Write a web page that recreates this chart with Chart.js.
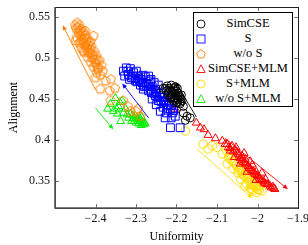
<!DOCTYPE html>
<html>
<head>
<meta charset="utf-8">
<script src="https://cdn.jsdelivr.net/npm/chart.js@4.4.1/dist/chart.umd.min.js"></script>
<style>
html, body { margin: 0; padding: 0; background: #fff; }
#wrap { position: relative; width: 308px; height: 245px; overflow: hidden; }
#legend {
    position: absolute; left: 193px; top: 12px; width: 100px; height: 95px;
    box-sizing: border-box; border: 1px solid #000; background: #fff;
    font-family: "Liberation Serif", serif; font-size: 12.5px; color: #000;
}
.row { position: absolute; left: 0; width: 100%; height: 15px; }
.row svg { position: absolute; left: 1px; top: 1.5px; }
.row span { position: absolute; left: 10px; right: 0; text-align: center; line-height: 15px; white-space: nowrap; }
</style>
</head>
<body>
<div id="wrap">
    <canvas id="chart" width="308" height="245"></canvas>
    <div id="legend"></div>
</div>
<script>
// tick labels
const xTicks = [-2.4, -2.3, -2.2, -2.1, -2, -1.9];
const yTicks = [0.35, 0.4, 0.45, 0.5, 0.55];

// series: [uniformity, alignment]
const simcse = [
    [-2.233, 0.463], [-2.223, 0.466], [-2.213, 0.467], [-2.203, 0.465], [-2.225, 0.460],
    [-2.215, 0.461], [-2.206, 0.460], [-2.196, 0.457], [-2.220, 0.455], [-2.210, 0.456],
    [-2.201, 0.454], [-2.191, 0.452], [-2.215, 0.451], [-2.206, 0.450], [-2.196, 0.449],
    [-2.186, 0.448], [-2.201, 0.445], [-2.191, 0.444], [-2.183, 0.441], [-2.198, 0.463],
    [-2.188, 0.455], [-2.183, 0.433], [-2.174, 0.429], [-2.166, 0.427], [-2.178, 0.424],
    [-2.228, 0.463], [-2.218, 0.463], [-2.208, 0.463], [-2.200, 0.460], [-2.220, 0.458],
    [-2.211, 0.459], [-2.203, 0.457], [-2.193, 0.454], [-2.212, 0.453], [-2.204, 0.452],
    [-2.197, 0.451], [-2.189, 0.450], [-2.208, 0.448], [-2.198, 0.446], [-2.190, 0.446]
];
const sOnly = [
    [-2.331, 0.484], [-2.324, 0.488], [-2.314, 0.487], [-2.319, 0.480], [-2.306, 0.482],
    [-2.299, 0.484], [-2.294, 0.478], [-2.311, 0.476], [-2.287, 0.474], [-2.277, 0.477],
    [-2.274, 0.469], [-2.289, 0.467], [-2.265, 0.472], [-2.260, 0.465], [-2.269, 0.460],
    [-2.252, 0.462], [-2.245, 0.467], [-2.240, 0.457], [-2.252, 0.454], [-2.235, 0.452],
    [-2.245, 0.448], [-2.228, 0.448], [-2.220, 0.443], [-2.233, 0.440], [-2.215, 0.438],
    [-2.210, 0.433], [-2.225, 0.433], [-2.203, 0.429], [-2.215, 0.415], [-2.191, 0.415],
    [-2.269, 0.478], [-2.301, 0.472], [-2.279, 0.465], [-2.260, 0.450], [-2.250, 0.443],
    [-2.240, 0.435], [-2.228, 0.427], [-2.213, 0.427],
    [-2.328, 0.478], [-2.320, 0.484], [-2.316, 0.474], [-2.308, 0.478], [-2.302, 0.475],
    [-2.297, 0.471], [-2.292, 0.473], [-2.285, 0.470], [-2.282, 0.462], [-2.275, 0.466],
    [-2.270, 0.468], [-2.265, 0.462], [-2.262, 0.458], [-2.256, 0.457], [-2.250, 0.459],
    [-2.248, 0.453], [-2.242, 0.452], [-2.238, 0.447], [-2.232, 0.446], [-2.230, 0.452],
    [-2.225, 0.443], [-2.222, 0.438], [-2.218, 0.446], [-2.212, 0.442], [-2.207, 0.436],
    [-2.255, 0.470], [-2.263, 0.474], [-2.283, 0.479]
];
const woS = [
    [-2.445, 0.543], [-2.440, 0.540], [-2.448, 0.536], [-2.435, 0.535], [-2.442, 0.531],
    [-2.430, 0.532], [-2.437, 0.527], [-2.425, 0.528], [-2.446, 0.525], [-2.432, 0.522],
    [-2.420, 0.524], [-2.440, 0.518], [-2.427, 0.517], [-2.415, 0.519], [-2.435, 0.512],
    [-2.422, 0.512], [-2.410, 0.514], [-2.428, 0.507], [-2.415, 0.506], [-2.403, 0.508],
    [-2.420, 0.501], [-2.408, 0.500], [-2.398, 0.503], [-2.412, 0.495], [-2.400, 0.494],
    [-2.390, 0.497], [-2.405, 0.489], [-2.393, 0.488], [-2.385, 0.491], [-2.397, 0.482],
    [-2.388, 0.479], [-2.400, 0.476], [-2.375, 0.472], [-2.362, 0.474], [-2.388, 0.462],
    [-2.365, 0.460], [-2.352, 0.463], [-2.363, 0.448], [-2.332, 0.448], [-2.320, 0.441],
    [-2.314, 0.435], [-2.300, 0.435], [-2.295, 0.438], [-2.289, 0.429], [-2.449, 0.521],
    [-2.430, 0.509], [-2.405, 0.527],
    [-2.443, 0.537], [-2.438, 0.533], [-2.433, 0.529], [-2.428, 0.524], [-2.424, 0.520],
    [-2.419, 0.516], [-2.414, 0.511], [-2.410, 0.506], [-2.406, 0.503], [-2.402, 0.498],
    [-2.398, 0.492], [-2.394, 0.486], [-2.437, 0.520], [-2.425, 0.515], [-2.418, 0.508],
    [-2.425, 0.533], [-2.450, 0.540], [-2.412, 0.520], [-2.395, 0.498], [-2.382, 0.484]
];
const simcseMlm = [
    [-2.203, 0.438], [-2.151, 0.421], [-2.141, 0.415], [-2.132, 0.413], [-2.122, 0.406],
    [-2.104, 0.402], [-2.087, 0.399], [-2.080, 0.395], [-2.072, 0.391], [-2.063, 0.393],
    [-2.067, 0.387], [-2.055, 0.388], [-2.048, 0.383], [-2.057, 0.379], [-2.043, 0.378],
    [-2.036, 0.377], [-2.031, 0.372], [-2.043, 0.371], [-2.023, 0.368], [-2.018, 0.365],
    [-2.011, 0.362], [-2.026, 0.361], [-2.006, 0.358], [-1.999, 0.356], [-1.994, 0.352],
    [-2.004, 0.351], [-1.986, 0.350], [-1.981, 0.347], [-1.974, 0.346], [-1.969, 0.344],
    [-1.962, 0.343], [-1.957, 0.340], [-1.989, 0.360], [-2.018, 0.374], [-2.053, 0.391],
    [-2.033, 0.384], [-2.013, 0.370],
    [-2.075, 0.395], [-2.068, 0.390], [-2.060, 0.386], [-2.050, 0.385], [-2.045, 0.381],
    [-2.040, 0.375], [-2.035, 0.373], [-2.028, 0.370], [-2.021, 0.366], [-2.015, 0.363],
    [-2.008, 0.360], [-2.001, 0.357], [-1.996, 0.354], [-1.990, 0.351], [-1.984, 0.348],
    [-1.977, 0.346], [-1.966, 0.342], [-1.960, 0.341], [-2.038, 0.380], [-2.030, 0.376],
    [-2.003, 0.361], [-1.980, 0.352]
];
const sMlm = [
    [-2.178, 0.411], [-2.134, 0.395], [-2.122, 0.389], [-2.112, 0.393], [-2.100, 0.391],
    [-2.087, 0.383], [-2.077, 0.387], [-2.072, 0.378], [-2.075, 0.371], [-2.063, 0.374],
    [-2.060, 0.365], [-2.053, 0.370], [-2.043, 0.365], [-2.048, 0.360], [-2.036, 0.362],
    [-2.031, 0.356], [-2.023, 0.358], [-2.041, 0.352], [-2.018, 0.352], [-2.028, 0.347],
    [-2.013, 0.347], [-2.006, 0.350], [-2.006, 0.343], [-2.018, 0.341], [-1.999, 0.340],
    [-1.989, 0.338], [-2.011, 0.338], [-1.994, 0.345], [-2.026, 0.365], [-2.067, 0.383],
    [-2.070, 0.381], [-2.065, 0.377], [-2.057, 0.372], [-2.050, 0.367], [-2.046, 0.363],
    [-2.039, 0.359], [-2.034, 0.357], [-2.027, 0.354], [-2.022, 0.350], [-2.016, 0.346],
    [-2.010, 0.344], [-2.003, 0.342], [-1.996, 0.339], [-2.038, 0.366], [-2.020, 0.355],
    [-2.014, 0.340], [-2.030, 0.344], [-2.002, 0.336]
];
const woSMlm = [
    [-2.363, 0.444], [-2.351, 0.451], [-2.334, 0.448], [-2.356, 0.435], [-2.343, 0.441],
    [-2.326, 0.438], [-2.338, 0.423], [-2.331, 0.433], [-2.314, 0.432], [-2.301, 0.429],
    [-2.294, 0.426], [-2.289, 0.423], [-2.282, 0.419], [-2.299, 0.421], [-2.306, 0.426],
    [-2.286, 0.428], [-2.277, 0.420], [-2.318, 0.427], [-2.311, 0.423], [-2.370, 0.438],
    [-2.346, 0.432],
    [-2.340, 0.446], [-2.348, 0.438], [-2.322, 0.431], [-2.308, 0.430], [-2.297, 0.425],
    [-2.291, 0.427], [-2.284, 0.422], [-2.280, 0.421], [-2.304, 0.423], [-2.293, 0.420],
    [-2.287, 0.418]
];

// trend arrows [x0, y0, x1, y1], head at the second point
const arrowSimcse = [-2.151, 0.428, -2.203, 0.471];
const arrowS = [-2.269, 0.427, -2.334, 0.469];
const arrowWoS = [-2.400, 0.461, -2.481, 0.540];
const arrowSimcseMlm = [-2.080, 0.402, -1.925, 0.340];
const arrowSMlm = [-2.149, 0.389, -2.013, 0.329];
const arrowWoSMlm = [-2.400, 0.439, -2.356, 0.413];

const labels = ["SimCSE", "S", "w/o S", "SimCSE+MLM", "S+MLM", "w/o S+MLM"];
const colors = ["#000000", "#0000ff", "#ff8000", "#ff0000", "#ffdd00", "#00ee00"];
const allSeries = [simcse, sOnly, woS, simcseMlm, sMlm, woSMlm];
const allArrows = [arrowSimcse, arrowS, arrowWoS, arrowSimcseMlm, arrowSMlm, arrowWoSMlm];

function pentagon(color, r) {
    const c = document.createElement("canvas");
    const s = Math.ceil(r * 2 + 2);
    c.width = s;
    c.height = s;
    const g = c.getContext("2d");
    g.strokeStyle = color;
    g.lineWidth = 1;
    g.beginPath();
    for (let i = 0; i < 5; i++) {
        const a = -Math.PI / 2 + i * 2 * Math.PI / 5;
        g.lineTo(s / 2 + r * Math.cos(a), s / 2 + r * Math.sin(a));
    }
    g.closePath();
    g.stroke();
    return c;
}

const styles = [
    { pointStyle: "circle", radius: 4 },
    { pointStyle: "rect", radius: 5.5 },
    { pointStyle: pentagon(colors[2], 4.8), radius: 5 },
    { pointStyle: "triangle", radius: 4.6 },
    { pointStyle: "circle", radius: 4.3 },
    { pointStyle: "triangle", radius: 4.6 }
];

const datasets = allSeries.map((pts, i) => ({
    label: labels[i],
    data: pts.map(p => ({ x: p[0], y: p[1] })),
    pointStyle: styles[i].pointStyle,
    pointRadius: styles[i].radius,
    borderColor: colors[i],
    backgroundColor: "rgba(0,0,0,0)",
    pointBorderWidth: 1,
    showLine: false
}));

const framePlugin = {
    id: "frame",
    afterDatasetsDraw(chart) {
        const ctx = chart.ctx;
        const a = chart.chartArea;
        const xs = chart.scales.x;
        const ys = chart.scales.y;

        // arrows
        allArrows.forEach((ar, i) => {
            const x0 = xs.getPixelForValue(ar[0]);
            const y0 = ys.getPixelForValue(ar[1]);
            const x1 = xs.getPixelForValue(ar[2]);
            const y1 = ys.getPixelForValue(ar[3]);
            const ang = Math.atan2(y1 - y0, x1 - x0);
            ctx.save();
            ctx.strokeStyle = colors[i];
            ctx.fillStyle = colors[i];
            ctx.lineWidth = 0.9;
            ctx.beginPath();
            ctx.moveTo(x0, y0);
            ctx.lineTo(x1 - 3 * Math.cos(ang), y1 - 3 * Math.sin(ang));
            ctx.stroke();
            ctx.translate(x1, y1);
            ctx.rotate(ang);
            ctx.beginPath();
            ctx.moveTo(0, 0);
            ctx.lineTo(-5, -2.2);
            ctx.lineTo(-5, 2.2);
            ctx.closePath();
            ctx.fill();
            ctx.restore();
        });

        ctx.save();
        // inward ticks
        ctx.strokeStyle = "#777";
        ctx.lineWidth = 1;
        ctx.beginPath();
        xTicks.forEach(v => {
            const px = Math.round(xs.getPixelForValue(v)) + 0.5;
            ctx.moveTo(px, a.bottom); ctx.lineTo(px, a.bottom - 4);
            ctx.moveTo(px, a.top); ctx.lineTo(px, a.top + 4);
        });
        yTicks.forEach(v => {
            const py = Math.round(ys.getPixelForValue(v)) + 0.5;
            ctx.moveTo(a.left, py); ctx.lineTo(a.left + 4, py);
            ctx.moveTo(a.right, py); ctx.lineTo(a.right - 4, py);
        });
        ctx.stroke();

        // frame
        ctx.strokeStyle = "#222";
        ctx.lineWidth = 1;
        ctx.strokeRect(Math.round(a.left) + 0.5, Math.round(a.top) + 0.5,
            Math.round(a.right - a.left), Math.round(a.bottom - a.top));
        ctx.strokeStyle = "#555";
        ctx.lineWidth = 1.6;
        ctx.beginPath();
        ctx.moveTo(a.left, a.top);
        ctx.lineTo(a.left, a.bottom);
        ctx.lineTo(a.right, a.bottom);
        ctx.stroke();
        ctx.restore();
    }
};

const fontTick = { family: "Liberation Serif", size: 12 };

new Chart(document.getElementById("chart").getContext("2d"), {
    type: "scatter",
    data: { datasets: datasets },
    options: {
        responsive: false,
        animation: false,
        layout: { padding: { left: 0, right: 10, top: 7, bottom: 0 } },
        plugins: {
            legend: { display: false },
            tooltip: { enabled: false }
        },
        scales: {
            x: {
                type: "linear",
                min: -2.5,
                max: -1.9,
                grid: { display: false, drawTicks: false },
                border: { display: false },
                afterBuildTicks: s => { s.ticks = xTicks.map(v => ({ value: v })); },
                afterFit: s => { s.height = 37; s.paddingLeft = 0; s.paddingRight = 0; },
                ticks: {
                    padding: 4,
                    color: "#111",
                    font: fontTick,
                    maxRotation: 0,
                    autoSkip: false,
                    callback: v => String(v).replace("-", "\u2212")
                },
                title: {
                    display: true,
                    text: "Uniformity",
                    color: "#000",
                    font: fontTick,
                    padding: { top: 0, bottom: 1 }
                }
            },
            y: {
                type: "linear",
                min: 0.3171,
                max: 0.5622,
                grid: { display: false, drawTicks: false },
                border: { display: false },
                afterBuildTicks: s => { s.ticks = yTicks.map(v => ({ value: v })); },
                afterFit: s => { s.width = 55; s.paddingTop = 0; s.paddingBottom = 0; },
                ticks: {
                    padding: 5,
                    color: "#111",
                    font: fontTick,
                    autoSkip: false,
                    callback: v => String(v)
                },
                title: {
                    display: true,
                    text: "Alignment",
                    color: "#000",
                    font: fontTick,
                    padding: { top: 7, bottom: 0 }
                }
            }
        }
    },
    plugins: [framePlugin]
});

// legend box (html)
function markerSvg(i) {
    const c = colors[i];
    let shape;
    if (i === 0 || i === 4) {
        shape = `<circle cx="6" cy="6" r="4" fill="none" stroke="${c}" stroke-width="0.9"/>`;
    } else if (i === 1) {
        shape = `<rect x="2" y="2" width="8" height="8" fill="none" stroke="${c}" stroke-width="0.9"/>`;
    } else if (i === 2) {
        const pts = [];
        for (let k = 0; k < 5; k++) {
            const a = -Math.PI / 2 + k * 2 * Math.PI / 5;
            pts.push((6 + 4.5 * Math.cos(a)).toFixed(2) + "," + (6.3 + 4.5 * Math.sin(a)).toFixed(2));
        }
        shape = `<polygon points="${pts.join(" ")}" fill="none" stroke="${c}" stroke-width="0.9"/>`;
    } else {
        shape = `<polygon points="6,1.8 10.2,9.5 1.8,9.5" fill="none" stroke="${c}" stroke-width="0.9"/>`;
    }
    return `<svg width="12" height="12" viewBox="0 0 12 12">${shape}</svg>`;
}

const legendBox = document.getElementById("legend");
labels.forEach((label, i) => {
    const row = document.createElement("div");
    row.className = "row";
    row.style.top = (3 + 15 * i) + "px";
    row.innerHTML = markerSvg(i);
    const text = document.createElement("span");
    text.textContent = label;
    row.appendChild(text);
    legendBox.appendChild(row);
});
</script>
</body>
</html>
